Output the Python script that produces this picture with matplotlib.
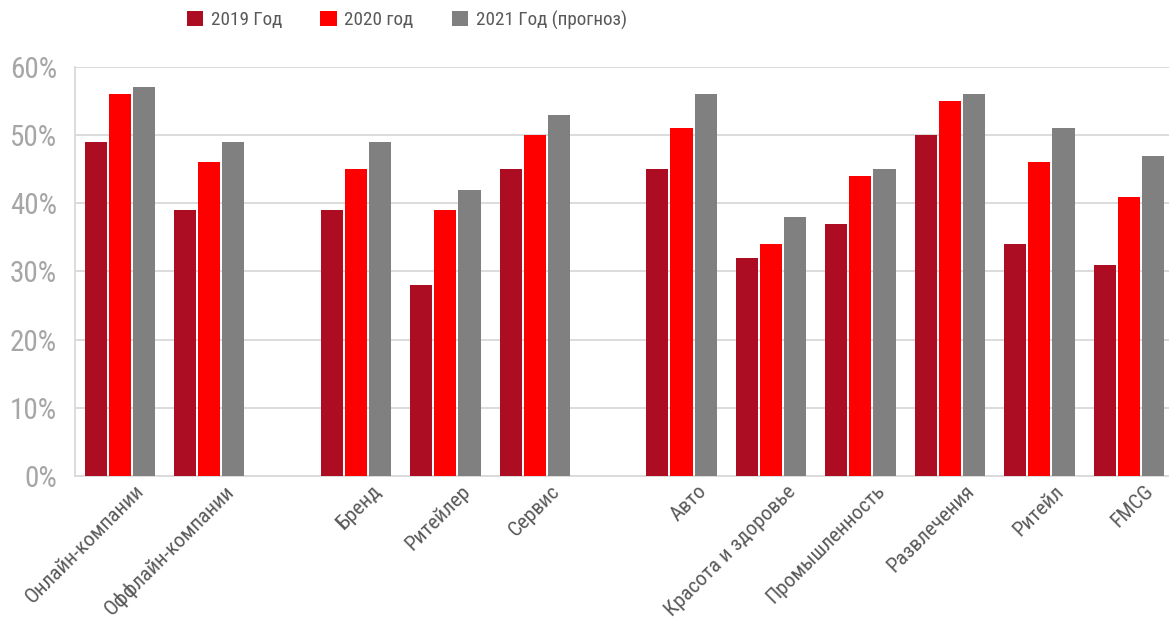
import numpy as np
import matplotlib
matplotlib.use('Agg')
import matplotlib.pyplot as plt
from matplotlib.patches import Patch
from matplotlib import font_manager as fm
import matplotlib.transforms as mtransforms

# pick a narrow font if one is there
installed = set(f.name for f in fm.fontManager.ttflist)
narrow = [n for n in ['Roboto Condensed', 'PT Sans Narrow', 'Liberation Sans Narrow',
                      'Open Sans Condensed', 'Roboto'] if n in installed]
plt.rcParams['font.family'] = narrow[:1] + ['DejaVu Sans']

# ---------------- data ----------------
categories = ['Онлайн-компании', 'Оффлайн-компании',
              'Бренд', 'Ритейлер', 'Сервис',
              'Авто', 'Красота и здоровье', 'Промышленность', 'Развлечения', 'Ритейл', 'FMCG']
series_names = ['2019 Год', '2020 год', '2021 Год (прогноз)']
vals_2019 = [49, 39, 39, 28, 45, 45, 32, 37, 50, 34, 31]
vals_2020 = [56, 46, 45, 39, 50, 51, 34, 44, 55, 46, 41]
vals_2021 = [57, 49, 49, 42, 53, 56, 38, 45, 56, 51, 47]
colors = ['#AD0D22', '#FF0000', '#808080']

# group positions: extra gap after 2nd and 5th category
section_gap = 0.64
x = np.arange(len(categories), dtype=float)
x[2:] += section_gap
x[5:] += section_gap

fig = plt.figure(figsize=(11.69, 6.26), dpi=100)
ax = fig.add_axes([0.0642, 0.2396, 0.9358, 0.6534])

w = 0.248
for i, (vals, col) in enumerate(zip([vals_2019, vals_2020, vals_2021], colors)):
    ax.bar(x + (i - 1) * 0.27, np.array(vals) / 100, width=w, color=col,
           linewidth=0, zorder=3)

ax.set_ylim(0, 0.6)
ax.set_xlim(-0.5, 11.73)
ax.set_yticks(np.arange(0, 0.61, 0.1))
ax.set_yticklabels([f'{int(round(t * 100))}%' for t in np.arange(0, 0.61, 0.1)])
ax.yaxis.grid(True, color='#d9d9d9', linewidth=1.3, zorder=0)
ax.tick_params(axis='y', length=0, pad=13, labelsize=21, labelcolor='#a6a6a6')

ax.set_xticks(x)
ax.set_xticklabels(categories, rotation=45, ha='right', rotation_mode='anchor')
ax.tick_params(axis='x', length=0, pad=4, labelsize=15.3, labelcolor='#595959')
shift = mtransforms.ScaledTranslation(15 / 100, 0, fig.dpi_scale_trans)
for lab in ax.get_xticklabels():
    lab.set_transform(lab.get_transform() + shift)

for s in ['top', 'right']:
    ax.spines[s].set_visible(False)
for s in ['left', 'bottom']:
    ax.spines[s].set_color('#d9d9d9')
    ax.spines[s].set_linewidth(1.3)

handles = [Patch(facecolor=c, edgecolor='none') for c in colors]
fig.legend(handles, series_names, loc='center', bbox_to_anchor=(0.348, 0.968), ncol=3,
           frameon=False, fontsize=13.8, labelcolor='#595959',
           handlelength=0.85, handleheight=0.85, handletextpad=0.4, columnspacing=2.0)

fig.savefig('out.png', dpi=100)
